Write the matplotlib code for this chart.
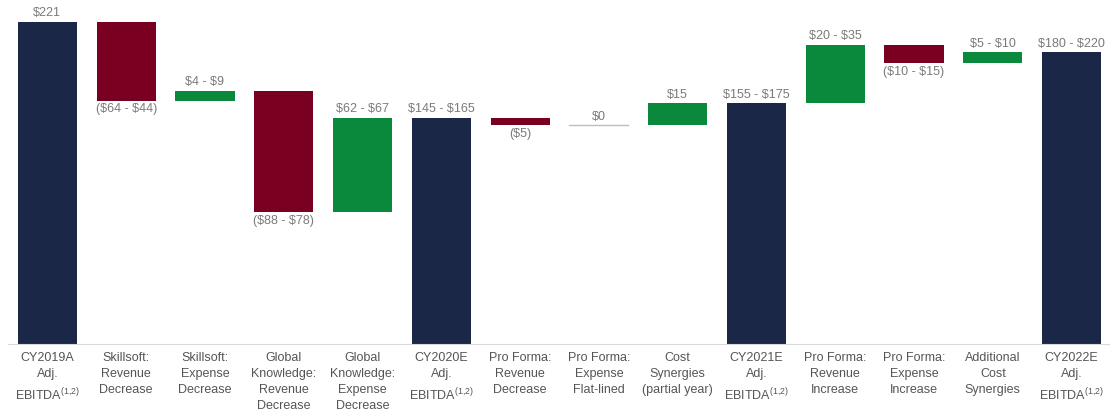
import matplotlib
matplotlib.use('Agg')
import matplotlib.pyplot as plt

# waterfall data (drawn bar sizes, $M)
sup = '$^{\\mathregular{(1{,}2)}}$'
categories = [
    'CY2019A\nAdj.\nEBITDA' + sup,
    'Skillsoft:\nRevenue\nDecrease',
    'Skillsoft:\nExpense\nDecrease',
    'Global\nKnowledge:\nRevenue\nDecrease',
    'Global\nKnowledge:\nExpense\nDecrease',
    'CY2020E\nAdj.\nEBITDA' + sup,
    'Pro Forma:\nRevenue\nDecrease',
    'Pro Forma:\nExpense\nFlat-lined',
    'Cost\nSynergies\n(partial year)',
    'CY2021E\nAdj.\nEBITDA' + sup,
    'Pro Forma:\nRevenue\nIncrease',
    'Pro Forma:\nExpense\nIncrease',
    'Additional\nCost\nSynergies',
    'CY2022E\nAdj.\nEBITDA' + sup,
]
steps = [221, -54, 6.5, -83, 64.5, None, -5, 0, 15, None, 40, -12.5, 7.5, None]
value_labels = ['$221', '($64 - $44)', '$4 - $9', '($88 - $78)', '$62 - $67',
                '$145 - $165', '($5)', '$0', '$15', '$155 - $175',
                '$20 - $35', '($10 - $15)', '$5 - $10', '$180 - $220']

navy = '#1b2746'
red = '#7a0021'
green = '#0a893c'
label_gray = '#7a7a7a'

plt.rcParams['font.family'] = ['Liberation Sans', 'DejaVu Sans']
plt.rcParams['mathtext.fontset'] = 'custom'
plt.rcParams['mathtext.rm'] = 'Liberation Sans'

fig = plt.figure(figsize=(11.1, 4.2), dpi=100)
ax = fig.add_axes([0.0072, 0.181, 0.993, 0.819])

width = 0.75
running = 0
for i, s in enumerate(steps):
    if i == 0 or s is None:
        # total bar
        if s is not None:
            running = s
        ax.bar(i, running, width=width, bottom=0, color=navy)
        ax.annotate(value_labels[i], (i, running), xytext=(0, 2), textcoords='offset points',
                    ha='center', va='bottom', fontsize=9, color=label_gray, parse_math=False)
        continue
    start = running
    running = start + s
    if s == 0:
        ax.plot([i - width / 2, i + width / 2], [start, start], color='#bfbfbf', lw=1)
        ax.annotate(value_labels[i], (i, start), xytext=(0, 2), textcoords='offset points',
                    ha='center', va='bottom', fontsize=9, color=label_gray, parse_math=False)
    elif s > 0:
        ax.bar(i, s, width=width, bottom=start, color=green)
        ax.annotate(value_labels[i], (i, running), xytext=(0, 2), textcoords='offset points',
                    ha='center', va='bottom', fontsize=9, color=label_gray, parse_math=False)
    else:
        ax.bar(i, s, width=width, bottom=start, color=red)
        ax.annotate(value_labels[i], (i, running), xytext=(0, -2), textcoords='offset points',
                    ha='center', va='top', fontsize=9, color=label_gray, parse_math=False)

ax.set_xlim(-0.5, 13.49)
ax.set_ylim(0, 236)
ax.set_xticks(range(len(categories)))
ax.set_xticklabels(categories, fontsize=9, color='#555555', linespacing=1.45)
ax.tick_params(axis='x', length=0, pad=6)
ax.set_yticks([])
for side in ['top', 'right', 'left']:
    ax.spines[side].set_visible(False)
ax.spines['bottom'].set_color('#d9d9d9')

fig.savefig('out.png', dpi=100)
